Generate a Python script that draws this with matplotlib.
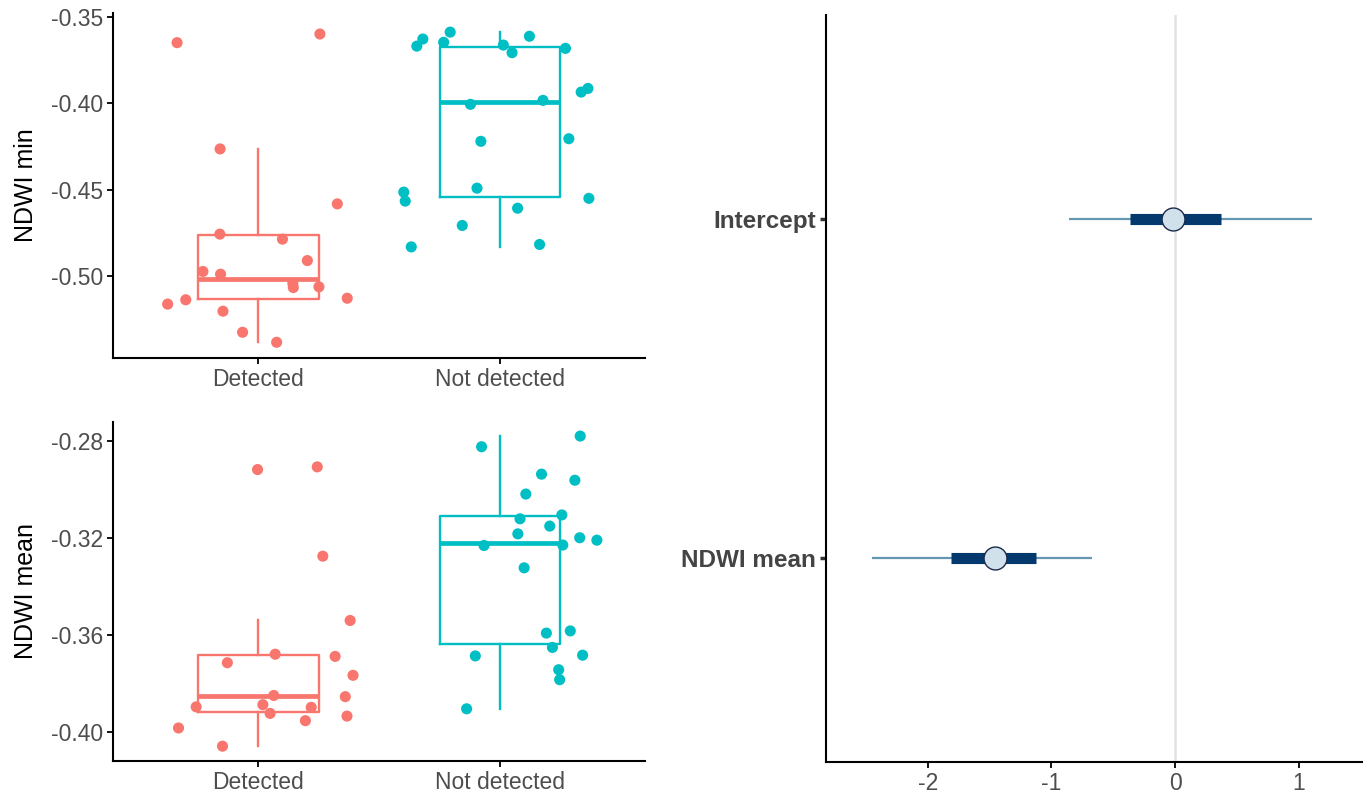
import numpy as np
import matplotlib
matplotlib.use("Agg")
import matplotlib.pyplot as plt

# =====================
# DATA
# =====================
groups = ["Detected", "Not detected"]
group_colors = ["#F8766D", "#00BFC4"]

# NDWI min, Detected
min_det = [-0.365, -0.360, -0.4265, -0.4583, -0.4758, -0.4787, -0.4911, -0.4974, -0.4990,
           -0.5044, -0.5067, -0.5063, -0.5163, -0.5138, -0.5129, -0.5204, -0.5326, -0.5384]
min_det_dx = [-0.336, 0.255, -0.158, 0.327, -0.159, 0.100, 0.203, -0.229, -0.156,
              0.143, 0.145, 0.251, -0.375, -0.300, 0.368, -0.146, -0.065, 0.076]

# NDWI min, Not detected
min_nd = [-0.3670, -0.3629, -0.3589, -0.3648, -0.3613, -0.3664, -0.3708, -0.3683, -0.3936,
          -0.3915, -0.4007, -0.3984, -0.4221, -0.4206, -0.4492, -0.4515, -0.4567, -0.4551,
          -0.4608, -0.4708, -0.4832, -0.4818]
min_nd_dx = [-0.344, -0.319, -0.206, -0.233, 0.122, 0.014, 0.050, 0.271, 0.336,
             0.364, -0.122, 0.178, -0.079, 0.285, -0.095, -0.398, -0.392, 0.368,
             0.073, -0.156, -0.367, 0.164]

# NDWI mean, Detected
mean_det = [-0.2917, -0.2906, -0.3274, -0.3539, -0.3678, -0.3713, -0.3687, -0.3765, -0.3848,
            -0.3853, -0.3895, -0.3886, -0.3897, -0.3922, -0.3933, -0.3952, -0.3982, -0.4057]
mean_det_dx = [-0.003, 0.244, 0.267, 0.380, 0.070, -0.128, 0.318, 0.392, 0.064,
               0.360, -0.257, 0.019, 0.219, 0.049, 0.367, 0.195, -0.330, -0.148]

# NDWI mean, Not detected
mean_nd = [-0.2779, -0.2823, -0.2936, -0.2961, -0.3018, -0.3104, -0.3120, -0.3150, -0.3182,
           -0.3198, -0.3208, -0.3230, -0.3228, -0.3322, -0.3591, -0.3582, -0.3650, -0.3685,
           -0.3682, -0.3742, -0.3783, -0.3903]
mean_nd_dx = [0.332, -0.076, 0.172, 0.310, 0.107, 0.256, 0.083, 0.206, 0.074,
              0.330, 0.401, -0.066, 0.260, 0.100, 0.192, 0.291, 0.217, -0.102,
              0.342, 0.243, 0.247, -0.138]

# Coefficient plot
coef_names = ["NDWI mean", "Intercept"]
coef_est = [-1.456, -0.013]
coef_inner_lo = [-1.812, -0.364]
coef_inner_hi = [-1.121, 0.372]
coef_outer_lo = [-2.449, -0.859]
coef_outer_hi = [-0.674, 1.110]

# =====================
# STYLE
# =====================
plt.rcParams.update({
    "font.family": ["Liberation Sans", "DejaVu Sans"],
    "font.size": 16,
    "axes.linewidth": 1.5,
})
TICK_GREY = "#4d4d4d"

fig = plt.figure(figsize=(13.63, 7.95), dpi=100)


def box_panel(ax, data, offsets, ylabel, ylim, yticks):
    bp = ax.boxplot(data, positions=[1, 2], widths=0.5, showfliers=False,
                    showcaps=False, whis=1.5, patch_artist=False)
    for i, c in enumerate(group_colors):
        bp["boxes"][i].set(color=c, linewidth=1.7)
        bp["medians"][i].set(color=c, linewidth=3.4, solid_capstyle="butt")
        for w in bp["whiskers"][2 * i:2 * i + 2]:
            w.set(color=c, linewidth=1.7)
        ax.scatter(np.array(offsets[i]) + i + 1, data[i], s=64, color=c,
                   edgecolors="none", zorder=3)
    ax.set_xlim(0.4, 2.6)
    ax.set_ylim(*ylim)
    ax.set_yticks(yticks)
    ax.set_yticklabels([f"{t:.2f}" for t in yticks])
    ax.set_xticks([1, 2])
    ax.set_xticklabels(groups)
    ax.set_ylabel(ylabel, fontsize=18, color="black", labelpad=9)
    for s in ["top", "right"]:
        ax.spines[s].set_visible(False)
    ax.tick_params(colors="black", labelcolor=TICK_GREY, labelsize=16.5,
                   length=4.5, width=1.3, pad=3)


# =====================
# LEFT PANELS
# =====================
ax1 = fig.add_axes([0.0831, 0.5501, 0.3901, 0.4332])
box_panel(ax1, [min_det, min_nd], [min_det_dx, min_nd_dx], "NDWI min",
          (-0.5473, -0.348), [-0.35, -0.40, -0.45, -0.50])

ax2 = fig.add_axes([0.0831, 0.0431, 0.3901, 0.4264])
box_panel(ax2, [mean_det, mean_nd], [mean_det_dx, mean_nd_dx], "NDWI mean",
          (-0.4117, -0.272), [-0.28, -0.32, -0.36, -0.40])

# =====================
# RIGHT PANEL (coefficients)
# =====================
ax3 = fig.add_axes([0.606, 0.0418, 0.394, 0.9394])
ypos = np.arange(1, len(coef_names) + 1)
ax3.axvline(0, color="#e3e3e3", linewidth=1.8, zorder=0)
ax3.hlines(ypos, coef_outer_lo, coef_outer_hi, color="#6497b1", linewidth=1.6, zorder=1)
ax3.hlines(ypos, coef_inner_lo, coef_inner_hi, color="#03396c", linewidth=8.0, zorder=2)
ax3.plot(coef_est, ypos, "o", markersize=16.5, markerfacecolor="#d1e1ec",
         markeredgecolor="#1b2a4a", markeredgewidth=1.0, zorder=3)
ax3.set_xlim(-2.823, 1.52)
ax3.set_ylim(0.4, 2.6)
ax3.set_yticks(ypos)
ax3.set_yticklabels(coef_names, fontweight="bold", fontsize=17.5)
ax3.set_xticks([-2, -1, 0, 1])
ax3.set_xticklabels(["-2", "-1", "0", "1"])
for s in ["top", "right"]:
    ax3.spines[s].set_visible(False)
ax3.tick_params(axis="x", colors="black", labelcolor=TICK_GREY, labelsize=16.5,
                length=4.5, width=1.3, pad=3)
ax3.tick_params(axis="y", colors="#333333", labelcolor="#444444",
                length=4.5, width=2.5, pad=3)

plt.savefig("out.png", dpi=100)
